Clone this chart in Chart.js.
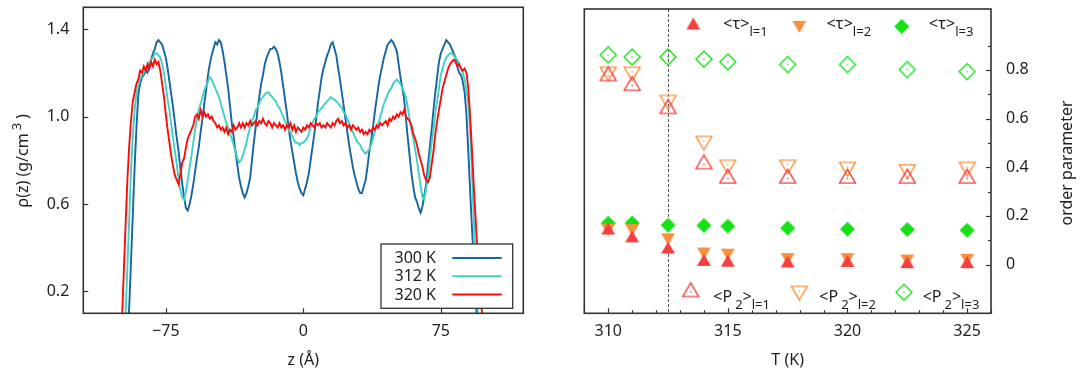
<!DOCTYPE html>
<html>
<head>
<meta charset="utf-8">
<script src="https://cdn.jsdelivr.net/npm/chart.js@4.4.1/dist/chart.umd.min.js"></script>
<style>
  html, body { margin: 0; padding: 0; background: #fff; }
  #wrap { position: relative; width: 1080px; height: 374px; }
  #wrap canvas { position: absolute; top: 0; }
  #rho { left: 0; }
  #order { left: 540px; }
</style>
</head>
<body>
<div id="wrap">
  <canvas id="rho" width="540" height="374" style="width:540px;height:374px"></canvas>
  <canvas id="order" width="540" height="374" style="width:540px;height:374px"></canvas>
</div>
<script>
// ---------- density profiles rho(z), sampled every 1 Å from -100 to 100 Å ----------
const zStart = -100;
const zStep = 1;
const seriesLabels = ['300 K', '312 K', '320 K'];

const rho300K = [
  0, 0, 0, 0, 0.02, 0.12, 0.33, 0.55, 0.77, 0.95,
  1.10, 1.15, 1.18, 1.19, 1.21, 1.20, 1.23, 1.26, 1.29, 1.31,
  1.34, 1.35, 1.34, 1.33, 1.30, 1.27, 1.22, 1.16, 1.10, 1.04,
  0.97, 0.90, 0.84, 0.76, 0.69, 0.63, 0.58, 0.57, 0.60, 0.64,
  0.69, 0.75, 0.81, 0.86, 0.93, 0.99, 1.06, 1.12, 1.19, 1.24,
  1.28, 1.31, 1.34, 1.33, 1.35, 1.34, 1.30, 1.25, 1.19, 1.13,
  1.05, 0.97, 0.91, 0.84, 0.78, 0.72, 0.68, 0.65, 0.63, 0.65,
  0.68, 0.72, 0.80, 0.88, 0.95, 1.03, 1.09, 1.15, 1.19, 1.24,
  1.27, 1.29, 1.31, 1.31, 1.32, 1.31, 1.29, 1.25, 1.20, 1.14,
  1.08, 1.02, 0.95, 0.89, 0.84, 0.79, 0.74, 0.70, 0.67, 0.65,
  0.64, 0.67, 0.70, 0.74, 0.80, 0.86, 0.92, 0.99, 1.06, 1.12,
  1.18, 1.22, 1.25, 1.28, 1.30, 1.33, 1.34, 1.31, 1.28, 1.22,
  1.17, 1.11, 1.05, 0.99, 0.93, 0.87, 0.82, 0.77, 0.73, 0.70,
  0.67, 0.65, 0.65, 0.68, 0.71, 0.77, 0.84, 0.89, 0.95, 1.02,
  1.08, 1.14, 1.19, 1.23, 1.27, 1.30, 1.33, 1.34, 1.35, 1.34,
  1.32, 1.30, 1.24, 1.18, 1.13, 1.08, 0.99, 0.90, 0.82, 0.74,
  0.68, 0.63, 0.61, 0.58, 0.56, 0.59, 0.64, 0.69, 0.78, 0.86,
  0.94, 1.03, 1.11, 1.18, 1.25, 1.29, 1.31, 1.33, 1.35, 1.34,
  1.33, 1.31, 1.29, 1.27, 1.23, 1.20, 1.19, 1.16, 1.11, 1.01,
  0.84, 0.66, 0.49, 0.33, 0.17, 0.03, 0, 0, 0, 0,
  0
];

const rho312K = [
  0, 0, 0, 0.08, 0.30, 0.52, 0.75, 0.91, 1.03, 1.11,
  1.14, 1.17, 1.19, 1.20, 1.22, 1.23, 1.25, 1.26, 1.27, 1.29,
  1.29, 1.28, 1.27, 1.24, 1.20, 1.14, 1.08, 1.03, 0.96, 0.90,
  0.84, 0.78, 0.71, 0.66, 0.63, 0.62, 0.66, 0.71, 0.77, 0.82,
  0.88, 0.94, 0.99, 1.03, 1.06, 1.09, 1.12, 1.14, 1.16, 1.18,
  1.17, 1.15, 1.13, 1.11, 1.09, 1.06, 1.03, 1.00, 0.97, 0.95,
  0.92, 0.90, 0.87, 0.84, 0.81, 0.79, 0.80, 0.82, 0.85, 0.88,
  0.92, 0.95, 0.98, 1.00, 1.03, 1.04, 1.06, 1.08, 1.09, 1.10,
  1.11, 1.11, 1.10, 1.09, 1.08, 1.07, 1.05, 1.04, 1.02, 1.00,
  0.98, 0.96, 0.94, 0.93, 0.91, 0.89, 0.88, 0.88, 0.87, 0.88,
  0.88, 0.89, 0.90, 0.92, 0.95, 0.97, 0.99, 1.00, 1.02, 1.03,
  1.04, 1.05, 1.06, 1.07, 1.08, 1.09, 1.08, 1.08, 1.07, 1.06,
  1.05, 1.04, 1.02, 1.01, 0.99, 0.97, 0.95, 0.93, 0.91, 0.89,
  0.88, 0.87, 0.85, 0.84, 0.83, 0.84, 0.85, 0.87, 0.90, 0.93,
  0.95, 0.97, 1.00, 1.03, 1.06, 1.08, 1.10, 1.12, 1.13, 1.15,
  1.16, 1.17, 1.16, 1.15, 1.13, 1.11, 1.09, 1.04, 0.99, 0.94,
  0.90, 0.85, 0.80, 0.74, 0.68, 0.63, 0.62, 0.67, 0.72, 0.80,
  0.88, 0.94, 1.02, 1.07, 1.13, 1.19, 1.22, 1.25, 1.27, 1.28,
  1.29, 1.29, 1.28, 1.27, 1.26, 1.24, 1.22, 1.20, 1.17, 1.12,
  1.06, 0.94, 0.74, 0.53, 0.32, 0.14, 0, 0, 0, 0,
  0
];

const rho320K = [
  0, 0.05, 0.27, 0.49, 0.70, 0.86, 0.98, 1.07, 1.11, 1.15,
  1.17, 1.21, 1.20, 1.23, 1.21, 1.24, 1.22, 1.25, 1.23, 1.26,
  1.24, 1.25, 1.21, 1.15, 1.09, 1.01, 0.94, 0.88, 0.82, 0.77,
  0.73, 0.71, 0.69, 0.74, 0.79, 0.81, 0.86, 0.90, 0.92, 0.94,
  0.96, 1.00, 1.01, 0.99, 1.03, 1.00, 1.02, 1.00, 1.01, 0.99,
  1.00, 0.98, 0.97, 0.95, 0.96, 0.94, 0.95, 0.93, 0.95, 0.92,
  0.94, 0.93, 0.96, 0.94, 0.95, 0.97, 0.95, 0.97, 0.95, 0.97,
  0.96, 0.98, 0.96, 0.97, 0.98, 0.96, 0.98, 0.97, 0.99, 0.97,
  0.96, 0.98, 0.97, 0.95, 0.97, 0.96, 0.95, 0.97, 0.95, 0.96,
  0.94, 0.96, 0.95, 0.97, 0.94, 0.96, 0.93, 0.95, 0.94, 0.93,
  0.95, 0.94, 0.96, 0.95, 0.97, 0.96, 0.95, 0.97, 0.96, 0.97,
  0.95, 0.96, 0.95, 0.97, 0.96, 0.95, 0.97, 0.96, 0.98, 0.99,
  0.97, 0.98, 0.96, 0.97, 0.95, 0.96, 0.94, 0.96, 0.95, 0.94,
  0.95, 0.93, 0.94, 0.92, 0.93, 0.92, 0.94, 0.93, 0.95, 0.94,
  0.96, 0.95, 0.97, 0.96, 0.97, 0.98, 0.96, 0.99, 0.98, 1.00,
  0.99, 1.01, 1.00, 1.02, 1.01, 1.03, 1.00, 0.99, 0.98, 0.96,
  0.92, 0.90, 0.87, 0.83, 0.80, 0.77, 0.73, 0.71, 0.70, 0.72,
  0.78, 0.84, 0.92, 0.98, 1.03, 1.08, 1.13, 1.16, 1.19, 1.22,
  1.24, 1.25, 1.26, 1.25, 1.23, 1.24, 1.22, 1.21, 1.22, 1.20,
  1.13, 1.00, 0.85, 0.68, 0.53, 0.38, 0.26, 0.15, 0.05, 0,
  0
];

const zTicks = [-75, 0, 75];
const rhoTicks = [0.2, 0.6, 1.0, 1.4];

// ---------- order parameters versus temperature ----------
const temperatures = [310, 311, 312.5, 314, 315, 317.5, 320, 322.5, 325];
const tauL1 = [0.140, 0.108, 0.062, 0.011, 0.008, 0.005, 0.007, 0.002, 0.002];
const tauL2 = [0.152, 0.150, 0.112, 0.054, 0.049, 0.031, 0.031, 0.025, 0.028];
const tauL3 = [0.170, 0.171, 0.162, 0.161, 0.158, 0.150, 0.146, 0.144, 0.141];
const p2L1 = [0.775, 0.735, 0.640, 0.413, 0.354, 0.354, 0.354, 0.354, 0.354];
const p2L2 = [0.792, 0.792, 0.676, 0.508, 0.410, 0.410, 0.401, 0.391, 0.401];
const p2L3 = [0.862, 0.853, 0.853, 0.844, 0.833, 0.822, 0.822, 0.801, 0.793];
const transitionT = 312.5;

const tTicks = [310, 315, 320, 325];
const tMinorTicks = [309, 311, 312, 313, 314, 316, 317, 318, 319, 321, 322, 323, 324, 326];
const orderTicks = [0, 0.2, 0.4, 0.6, 0.8];
const orderMinorTicks = [0.1, 0.3, 0.5, 0.7, 0.9];

// ---------- shared styling ----------
const FONT = '"Noto Sans", "DejaVu Sans", sans-serif';
const INK = '#1e1e1e';
const FRAME = '#333333';
const SIZE = 16;
const RED = '#f54040';
const ORANGE = '#fa913c';
const GREEN = '#16e016';

function drawRich(ctx, x, y, parts, size) {
  let cx = x;
  parts.forEach(p => {
    const s = (p.sub || p.sup) ? Math.round(size * 0.8) : size;
    ctx.font = s + 'px ' + FONT;
    const dy = p.sub ? 7 : (p.sup ? -6.5 : 0);
    cx += p.gap || 0;
    ctx.fillText(p.t, cx, y + dy);
    cx += ctx.measureText(p.t).width;
  });
  return cx - x;
}

function richWidth(ctx, parts, size) {
  let w = 0;
  parts.forEach(p => {
    const s = (p.sub || p.sup) ? Math.round(size * 0.8) : size;
    ctx.font = s + 'px ' + FONT;
    w += (p.gap || 0) + ctx.measureText(p.t).width;
  });
  return w;
}

// keep the plot area exactly where the layout padding puts it
function fixWidth(w) {
  return s => { s.width = w; s.paddingTop = 0; s.paddingBottom = 0; };
}
function fixHeight(h) {
  return s => { s.height = h; s.paddingLeft = 0; s.paddingRight = 0; };
}

// box border plus inward tick marks
function makeFrame(marks) {
  return {
    id: 'frameTicks',
    afterDatasetsDraw(chart) {
      const { ctx, chartArea: a, scales } = chart;
      ctx.save();
      ctx.strokeStyle = FRAME;
      ctx.lineWidth = 1.2;
      marks.forEach(m => {
        const sc = scales[m.scale];
        m.values.forEach(v => {
          const p = Math.round(sc.getPixelForValue(v)) + 0.5;
          ctx.beginPath();
          if (m.edge === 'bottom') { ctx.moveTo(p, a.bottom); ctx.lineTo(p, a.bottom - m.len); }
          else if (m.edge === 'left') { ctx.moveTo(a.left, p); ctx.lineTo(a.left + m.len, p); }
          else { ctx.moveTo(a.right, p); ctx.lineTo(a.right - m.len, p); }
          ctx.stroke();
        });
      });
      ctx.lineWidth = 1.6;
      ctx.strokeRect(a.left, a.top, a.right - a.left, a.bottom - a.top);
      ctx.restore();
    }
  };
}

// rotated axis title with optional super/subscripts
function makeSideTitle(parts, cx, cy) {
  return {
    id: 'sideTitle',
    afterDraw(chart) {
      const ctx = chart.ctx;
      ctx.save();
      ctx.translate(cx, cy);
      ctx.rotate(-Math.PI / 2);
      ctx.fillStyle = INK;
      ctx.textBaseline = 'middle';
      ctx.textAlign = 'left';
      const w = richWidth(ctx, parts, SIZE);
      drawRich(ctx, -w / 2, 0, parts, SIZE);
      ctx.restore();
    }
  };
}

// ---------- left panel: density profiles ----------
const profileColors = ['#1664a0', '#3fd2c3', '#ff0a0a'];
const profileSeries = [rho300K, rho312K, rho320K];

const lineKey = {
  id: 'lineKey',
  afterDraw(chart) {
    const ctx = chart.ctx;
    const box = { x: 381, y: 244, w: 131.7, h: 64.3 };
    ctx.save();
    ctx.fillStyle = '#fff';
    ctx.fillRect(box.x, box.y, box.w, box.h);
    ctx.strokeStyle = FRAME;
    ctx.lineWidth = 1.3;
    ctx.strokeRect(box.x, box.y, box.w, box.h);
    ctx.font = SIZE + 'px ' + FONT;
    ctx.textAlign = 'right';
    ctx.textBaseline = 'middle';
    chart.data.datasets.forEach((ds, i) => {
      const y = 258 + i * 18.3;
      ctx.fillStyle = INK;
      ctx.fillText(ds.label, 436, y + 0.5);
      ctx.strokeStyle = ds.borderColor;
      ctx.lineWidth = 2;
      ctx.beginPath();
      ctx.moveTo(452.3, y);
      ctx.lineTo(501.7, y);
      ctx.stroke();
    });
    ctx.restore();
  }
};

new Chart(document.getElementById('rho'), {
  type: 'line',
  data: {
    datasets: seriesLabels.map((label, k) => ({
      label,
      data: profileSeries[k].map((v, i) => ({ x: zStart + i * zStep, y: v })),
      borderColor: profileColors[k],
      borderWidth: 1.9,
      pointRadius: 0,
      tension: 0,
      fill: false,
      order: 3 - k
    }))
  },
  options: {
    responsive: false,
    animation: false,
    events: [],
    layout: { padding: { left: 0, top: 7.3, right: 16.7, bottom: 0 } },
    scales: {
      x: {
        type: 'linear', min: -120, max: 120,
        afterBuildTicks: s => { s.ticks = zTicks.map(v => ({ value: v })); },
        afterFit: fixHeight(60.7),
        grid: { display: false, drawTicks: false },
        border: { display: false },
        ticks: {
          padding: 9, color: INK, font: { family: FONT, size: SIZE },
          autoSkip: false, maxRotation: 0,
          callback: v => (v < 0 ? '\u2212' + Math.abs(v) : String(v))
        },
        title: {
          display: true, text: 'z (Å)', color: INK,
          font: { family: FONT, size: SIZE }, padding: { top: 0, bottom: 4.4 }
        }
      },
      y: {
        type: 'linear', min: 0.1, max: 1.5,
        afterBuildTicks: s => { s.ticks = rhoTicks.map(v => ({ value: v })); },
        afterFit: fixWidth(83.3),
        grid: { display: false, drawTicks: false },
        border: { display: false },
        ticks: {
          padding: 14, color: INK, font: { family: FONT, size: SIZE },
          callback: v => Number(v).toFixed(1)
        }
      }
    },
    plugins: { legend: { display: false }, tooltip: { enabled: false } }
  },
  plugins: [
    makeFrame([
      { scale: 'x', edge: 'bottom', values: zTicks, len: 5 },
      { scale: 'y', edge: 'left', values: rhoTicks, len: 5 }
    ]),
    makeSideTitle([{ t: 'ρ(z) (g/cm' }, { t: '3', sup: true, gap: 3 }, { t: ')', gap: 4 }], 23.3, 160.8),
    lineKey
  ]
});

// ---------- right panel: order parameters ----------
function makeMarker(shape, color, filled, r) {
  const size = Math.ceil(r * 2 + 4);
  const c = document.createElement('canvas');
  c.width = c.height = size;
  const g = c.getContext('2d');
  const m = size / 2;
  g.beginPath();
  if (shape === 'up') {
    g.moveTo(m, m - r); g.lineTo(m + r * 0.866, m + r * 0.5); g.lineTo(m - r * 0.866, m + r * 0.5);
  } else if (shape === 'down') {
    g.moveTo(m, m + r); g.lineTo(m + r * 0.866, m - r * 0.5); g.lineTo(m - r * 0.866, m - r * 0.5);
  } else {
    g.moveTo(m, m - r); g.lineTo(m + r, m); g.lineTo(m, m + r); g.lineTo(m - r, m);
  }
  g.closePath();
  if (filled) {
    g.fillStyle = color;
    g.fill();
  } else {
    g.strokeStyle = color;
    g.lineWidth = 1.4;
    g.stroke();
    g.fillStyle = color;
    g.fillRect(m - 0.7, m - 0.7, 1.4, 1.4);
  }
  return c;
}

const markers = {
  tau1: makeMarker('up', RED, true, 8),
  tau2: makeMarker('down', ORANGE, true, 8),
  tau3: makeMarker('diamond', GREEN, true, 7.5),
  p21: makeMarker('up', RED, false, 9.2),
  p22: makeMarker('down', ORANGE, false, 9.2),
  p23: makeMarker('diamond', GREEN, false, 8)
};

const orderSeries = [
  { key: 'p23', values: p2L3, order: 6 },
  { key: 'p22', values: p2L2, order: 5 },
  { key: 'p21', values: p2L1, order: 4 },
  { key: 'tau3', values: tauL3, order: 3 },
  { key: 'tau2', values: tauL2, order: 2 },
  { key: 'tau1', values: tauL1, order: 1 }
];

const transitionLine = {
  id: 'transitionLine',
  beforeDatasetsDraw(chart) {
    const { ctx, chartArea: a, scales } = chart;
    const x = Math.round(scales.x.getPixelForValue(transitionT)) + 0.5;
    ctx.save();
    ctx.strokeStyle = '#555';
    ctx.lineWidth = 1;
    ctx.setLineDash([3, 2]);
    ctx.beginPath();
    ctx.moveTo(x, a.top);
    ctx.lineTo(x, a.bottom);
    ctx.stroke();
    ctx.restore();
  }
};

const markerKey = {
  id: 'markerKey',
  afterDraw(chart) {
    const ctx = chart.ctx;
    const rows = [
      { m: 'tau1', mx: 153.3, my: 25.5, tx: 183.3, ty: 29, parts: [{ t: '<τ>' }, { t: 'l=1', sub: true }] },
      { m: 'tau2', mx: 259.3, my: 25, tx: 286.7, ty: 29, parts: [{ t: '<τ>' }, { t: 'l=2', sub: true }] },
      { m: 'tau3', mx: 361.7, my: 26.5, tx: 389, ty: 29, parts: [{ t: '<τ>' }, { t: 'l=3', sub: true }] },
      { m: 'p21', mx: 150.7, my: 292, tx: 173.3, ty: 301.7, parts: [{ t: '<P' }, { t: '2', sub: true, gap: 3 }, { t: '>' }, { t: 'l=1', sub: true }] },
      { m: 'p22', mx: 259.3, my: 291, tx: 279.3, ty: 301.7, parts: [{ t: '<P' }, { t: '2', sub: true, gap: 3 }, { t: '>' }, { t: 'l=2', sub: true }] },
      { m: 'p23', mx: 364, my: 292.3, tx: 382.7, ty: 301.7, parts: [{ t: '<P' }, { t: '2', sub: true, gap: 3 }, { t: '>' }, { t: 'l=3', sub: true }] }
    ];
    ctx.save();
    ctx.fillStyle = INK;
    ctx.textAlign = 'left';
    ctx.textBaseline = 'alphabetic';
    rows.forEach(r => {
      const img = markers[r.m];
      ctx.drawImage(img, r.mx - img.width / 2, r.my - img.height / 2);
      drawRich(ctx, r.tx, r.ty, r.parts, SIZE);
    });
    ctx.restore();
  }
};

new Chart(document.getElementById('order'), {
  type: 'scatter',
  data: {
    datasets: orderSeries.map(s => ({
      label: s.key,
      data: temperatures.map((t, i) => ({ x: t, y: s.values[i] })),
      pointStyle: markers[s.key],
      pointRadius: 8,
      showLine: false,
      order: s.order
    }))
  },
  options: {
    responsive: false,
    animation: false,
    events: [],
    layout: { padding: { left: 44.3, top: 7.3, right: 0, bottom: 0 } },
    scales: {
      x: {
        type: 'linear', min: 309, max: 326,
        afterBuildTicks: s => { s.ticks = tTicks.map(v => ({ value: v })); },
        afterFit: fixHeight(60.7),
        grid: { display: false, drawTicks: false },
        border: { display: false },
        ticks: { padding: 9, color: INK, font: { family: FONT, size: SIZE }, autoSkip: false, maxRotation: 0 },
        title: {
          display: true, text: 'T (K)', color: INK,
          font: { family: FONT, size: SIZE }, padding: { top: 0, bottom: 4.4 }
        }
      },
      y: {
        type: 'linear', position: 'right', min: -0.2, max: 1.05,
        afterBuildTicks: s => { s.ticks = orderTicks.map(v => ({ value: v })); },
        afterFit: fixWidth(89),
        grid: { display: false, drawTicks: false },
        border: { display: false },
        ticks: {
          padding: 15, color: INK, font: { family: FONT, size: SIZE },
          callback: v => (v === 0 ? '0' : Number(v).toFixed(1))
        }
      }
    },
    plugins: { legend: { display: false }, tooltip: { enabled: false } }
  },
  plugins: [
    transitionLine,
    makeFrame([
      { scale: 'x', edge: 'bottom', values: tTicks, len: 5 },
      { scale: 'x', edge: 'bottom', values: tMinorTicks, len: 3 },
      { scale: 'y', edge: 'right', values: orderTicks, len: 5 },
      { scale: 'y', edge: 'right', values: orderMinorTicks, len: 3 }
    ]),
    makeSideTitle([{ t: 'order parameter' }], 527, 163),
    markerKey
  ]
});
</script>
</body>
</html>
